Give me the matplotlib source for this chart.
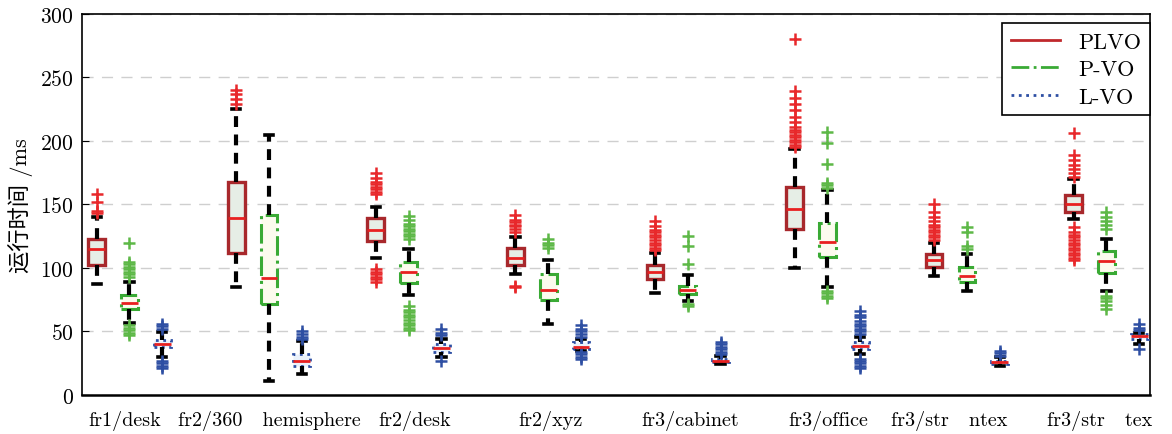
import matplotlib
matplotlib.use("Agg")
import matplotlib.pyplot as plt
from matplotlib.lines import Line2D

plt.rcParams["font.family"] = ["cmr10", "Noto Sans CJK SC", "DejaVu Serif"]
plt.rcParams["axes.formatter.use_mathtext"] = True

# ---- data (ms) ----
datasets = ["fr1/desk", "fr2/360   hemisphere", "fr2/desk", "fr2/xyz",
            "fr3/cabinet", "fr3/office", "fr3/str   ntex", "fr3/str   tex"]
methods = ["PLVO", "P-VO", "L-VO"]

plvo_q1 = [102.6, 112, 121, 102, 91, 131, 100.5, 144]
plvo_med = [115, 139, 130, 108, 96.6, 146.5, 106, 150.5]
plvo_q3 = [122.8, 168, 139, 115.5, 102.4, 163.5, 111, 157.5]
plvo_lo = [87, 85, 108, 95, 80, 100, 93.5, 138.6]
plvo_hi = [140, 225, 148, 124, 112, 194, 120, 170]
plvo_fl = [
    [143, 145, 152, 158],
    [229, 233, 237, 240],
    [158, 160, 162, 164, 166, 168, 171, 175, 89, 91, 93, 95, 97, 99],
    [128, 131, 133, 134, 136, 138, 142, 85, 86],
    [114, 116, 118, 120, 122, 124, 126, 128, 130, 133, 137],
    [195, 197, 199, 201, 203, 205, 207, 209, 211, 215, 219, 224, 229, 234, 239, 280],
    [122, 124, 126, 128, 130, 132, 134, 137, 140, 144, 150],
    [172, 175, 178, 181, 185, 189, 206, 106, 108, 110, 112, 114, 116, 118,
     120, 122, 124, 126, 128, 132],
]

pvo_q1 = [67.7, 72, 88, 75, 79.5, 108.4, 88.7, 96]
pvo_med = [72.4, 92, 96.6, 83, 82.7, 120.7, 94, 105.8]
pvo_q3 = [78.7, 142, 105, 95.3, 85.6, 135.4, 100.5, 113]
pvo_lo = [57, 11, 79, 56, 74.3, 85, 82, 82]
pvo_hi = [89, 205, 115, 106, 94.5, 161, 111, 123]
pvo_fl = [
    [93, 95, 97, 99, 101, 103, 105, 120, 47, 49, 51, 53, 55],
    [],
    [123, 125, 127, 129, 131, 133, 135, 138, 141, 51, 53, 55, 57, 59, 61,
     63, 65, 67, 70],
    [116, 118, 120, 123],
    [103, 117.6, 125.4, 70.3, 72],
    [163, 165, 167, 182, 198, 207, 76, 78, 80, 82],
    [115, 117.6, 128, 132],
    [131, 134, 137, 140, 144, 68, 71, 74, 76, 78],
]

lvo_q1 = [37.8, 23, 33.6, 36.2, 25.7, 36.2, 24.4, 44]
lvo_med = [40.4, 27, 37, 38, 27, 38.3, 25.7, 46.2]
lvo_q3 = [43.5, 32.3, 40, 41.5, 28.3, 41.5, 27, 48]
lvo_lo = [30, 16.5, 29.7, 35, 24.4, 32.3, 23, 40]
lvo_hi = [49.6, 42.8, 44, 44, 31, 45.4, 29.7, 49]
lvo_fl = [
    [52, 54, 56, 21, 23, 25, 27],
    [44, 46, 48, 50],
    [47, 49, 52, 27],
    [46, 48, 50, 52, 55, 28, 30, 32, 34],
    [32, 34, 36, 38, 40, 42],
    [48, 50, 52, 54, 56, 58, 61, 63, 66, 21, 23, 25, 27, 28],
    [31, 33, 35],
    [51, 53, 56, 36.2],
]

yticks = [0, 50, 100, 150, 200, 250, 300]

# ---- style ----
STYLE = {
    "PLVO": dict(ec="#A8282C", fc="#E6EEE6", ls="-", fl="#E8282B", lw=2.4),
    "P-VO": dict(ec="#3AAA35", fc="#FCFBEE", ls="-.", fl="#5DB847", lw=2.2),
    "L-VO": dict(ec="#2E4FA3", fc="#EAF1FA", ls=":", fl="#2E4FA3", lw=2.0),
}


def _stats(q1, med, q3, lo, hi, fl):
    return [dict(q1=a, med=b, q3=c, whislo=d, whishi=e, fliers=f)
            for a, b, c, d, e, f in zip(q1, med, q3, lo, hi, fl)]


series = {
    "PLVO": _stats(plvo_q1, plvo_med, plvo_q3, plvo_lo, plvo_hi, plvo_fl),
    "P-VO": _stats(pvo_q1, pvo_med, pvo_q3, pvo_lo, pvo_hi, pvo_fl),
    "L-VO": _stats(lvo_q1, lvo_med, lvo_q3, lvo_lo, lvo_hi, lvo_fl),
}
offsets = {"PLVO": -0.235, "P-VO": 0.0, "L-VO": 0.235}

fig = plt.figure(figsize=(11.72, 4.35), dpi=100)
ax = fig.add_axes([0.070, 0.0897, 0.911, 0.876])

centers = list(range(1, len(datasets) + 1))
for m in methods:
    s = STYLE[m]
    pos = [c + offsets[m] for c in centers]
    ax.bxp(series[m], positions=pos, widths=0.12, patch_artist=True,
           boxprops=dict(facecolor=s["fc"], edgecolor=s["ec"],
                         linestyle=s["ls"], linewidth=s["lw"]),
           medianprops=dict(color="#E82020", linewidth=2.0),
           whiskerprops=dict(color="black", linestyle=(0, (2.6, 1.8)),
                             linewidth=3.0),
           capprops=dict(color="black", linewidth=2.6),
           capwidths=0.06,
           flierprops=dict(marker="+", markeredgecolor=s["fl"],
                           markersize=9, markeredgewidth=1.8),
           manage_ticks=False, zorder=3)

ax.set_xlim(0.66, 8.31)
ax.set_ylim(0, 300)
ax.set_yticks(yticks)
ax.set_xticks([0.965, 2.0, 3.04, 4.02, 5.016, 6.01, 6.87, 7.95])
ax.set_xticklabels(datasets)
ax.tick_params(axis="x", length=0, pad=11, labelsize=14.5)
ax.tick_params(axis="y", direction="in", length=5, labelsize=15.5, pad=6)
ax.yaxis.grid(True, color="#CFCFCF", linestyle=(0, (8, 6)), linewidth=1.0)
ax.set_axisbelow(True)
for sp in ax.spines.values():
    sp.set_linewidth(1.2)
ax.spines["bottom"].set_linewidth(1.8)

ax.set_ylabel("运行时间 /ms", fontsize=16, labelpad=5,
              family=["cmr10", "Noto Sans CJK SC"])

handles = [Line2D([], [], color=STYLE[m]["ec"] if m != "PLVO" else "#C0282C",
                  linestyle=STYLE[m]["ls"], linewidth=2.0) for m in methods]
leg = ax.legend(handles, methods, loc="upper right",
                bbox_to_anchor=(1.0, 0.975), borderaxespad=0.0,
                fontsize=16, fancybox=False, edgecolor="black",
                framealpha=1.0, labelspacing=0.35, handlelength=2.2)
leg.get_frame().set_linewidth(1.2)

fig.savefig("out.png", dpi=100)
